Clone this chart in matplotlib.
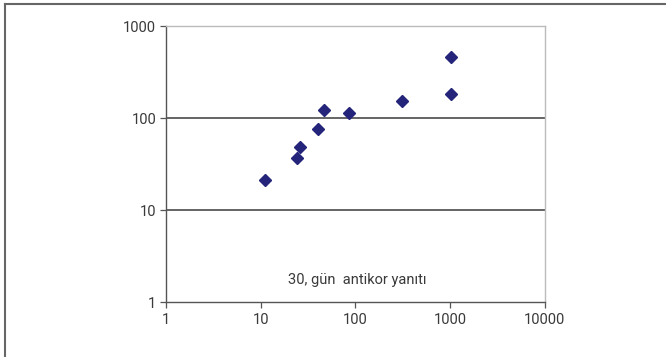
import matplotlib.pyplot as plt
from matplotlib.lines import Line2D
from matplotlib.ticker import FixedLocator, NullLocator

plt.rcParams['font.family'] = ['Roboto', 'DejaVu Sans']

# data
dose = [11.1, 24.1, 26.0, 40.2, 46.5, 85.4, 310, 1018, 1018]
response = [21.2, 36.7, 48.4, 75.9, 122, 113, 153, 182, 460]
x_ticks = [1, 10, 100, 1000, 10000]
y_ticks = [1, 10, 100, 1000]
label = '30, gün  antikor yanıtı'

fig = plt.figure(figsize=(6.66, 3.57), dpi=100)
ax = fig.add_axes([0.249, 0.154, 0.569, 0.773])

ax.set_xscale('log')
ax.set_yscale('log')
ax.set_xlim(1, 10000)
ax.set_ylim(1, 1000)

for yv in [10, 100]:
    ax.axhline(yv, color='#3a3a3a', lw=1.1, zorder=1)

ax.plot(dose, response, 'D', color='#24247a', markersize=6.5, ls='none', zorder=3)

ax.xaxis.set_major_locator(FixedLocator(x_ticks))
ax.yaxis.set_major_locator(FixedLocator(y_ticks))
ax.xaxis.set_minor_locator(NullLocator())
ax.yaxis.set_minor_locator(NullLocator())
ax.set_xticklabels([str(v) for v in x_ticks])
ax.set_yticklabels([str(v) for v in y_ticks])
ax.tick_params(direction='out', length=4, width=0.9, color='#555555',
               labelsize=10.5, labelcolor='#3a3a3a')
ax.tick_params(axis='x', pad=4)
ax.tick_params(axis='y', pad=3)

ax.spines['left'].set_color('#555555')
ax.spines['bottom'].set_color('#555555')
ax.spines['top'].set_color('#bbbbbb')
ax.spines['right'].set_color('#bbbbbb')
for s in ax.spines.values():
    s.set_linewidth(1.0)

ax.text(0.506, 0.08, label, transform=ax.transAxes, ha='center', va='center',
        fontsize=10.5, color='#3a3a3a')

# outer frame (top and left only)
fig.add_artist(Line2D([5 / 666, 1], [1 - 4 / 357, 1 - 4 / 357], transform=fig.transFigure,
                      color='#666666', lw=1.5))
fig.add_artist(Line2D([5 / 666, 5 / 666], [0, 1 - 4 / 357], transform=fig.transFigure,
                      color='#666666', lw=1.5))

fig.savefig('out.png', dpi=100)
